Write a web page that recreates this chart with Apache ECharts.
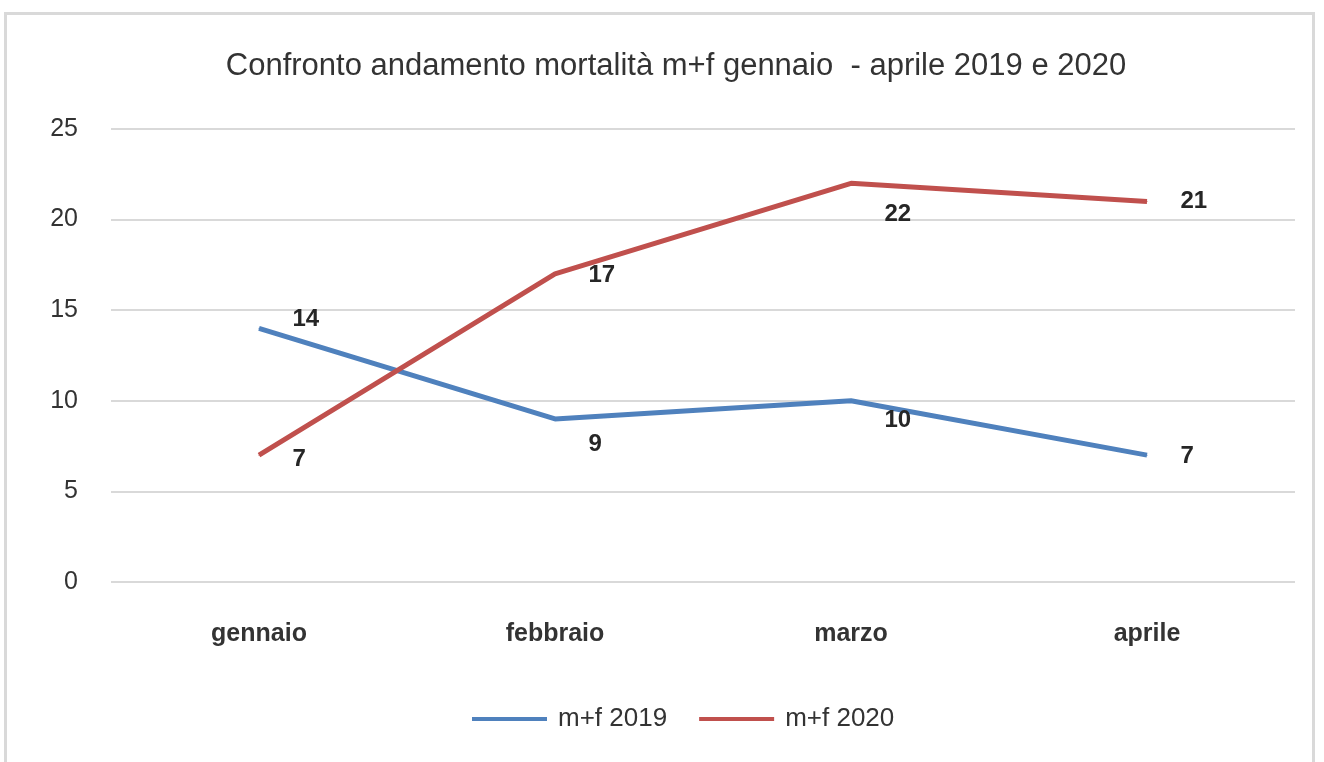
<!DOCTYPE html>
<html>
<head>
<meta charset="utf-8">
<script src="https://cdn.jsdelivr.net/npm/echarts@6/dist/echarts.min.js"></script>
<style>
  body { margin: 0; background: #fff; }
  #chart { position: absolute; left: 0; top: 0; width: 1324px; height: 762px; }
  #frame { position: absolute; left: 4px; top: 12px; width: 1311px; height: 760px;
           border: 3px solid #d9d9d9; box-sizing: border-box; pointer-events: none; }
</style>
</head>
<body>
<div id="chart"></div>
<div id="frame"></div>
<script>
// dati
var months = ['gennaio', 'febbraio', 'marzo', 'aprile'];
var mf2019 = [14, 9, 10, 7];
var mf2020 = [7, 17, 22, 21];
var yTicks = [0, 5, 10, 15, 20, 25];

// spostamento verticale etichette (solo stile)
var off2019 = [[0, -9], [0, 25], [0, 20], [0, 1]];
var off2020 = [[0, 4], [0, 1], [0, 31], [0, 0]];

function withLabels(values, offsets) {
    return values.map(function(v, i) {
        return { value: v, label: { offset: offsets[i] } };
    });
}

(function() {
    var font = '"Liberation Sans", Arial, sans-serif';
    var labelStyle = {
        show: true,
        position: 'right',
        distance: 33,
        fontFamily: font,
        fontSize: 24,
        fontWeight: 'bold',
        color: '#262626'
    };
    var option = {
        animation: false,
        title: {
            text: 'Confronto andamento mortalità m+f gennaio  - aprile 2019 e 2020',
            left: 671,
            top: 46,
            textAlign: 'center',
            textStyle: { fontFamily: font, fontSize: 31, fontWeight: 'normal', color: '#333' }
        },
        legend: {
            bottom: 25,
            left: 467,
            icon: 'rect',
            itemWidth: 75,
            itemHeight: 4,
            itemGap: 32,
            data: ['m+f 2019', 'm+f 2020'],
            textStyle: { fontFamily: font, fontSize: 26, color: '#333', padding: [0, 0, 0, 6] }
        },
        grid: { left: 111, right: 29, top: 129, bottom: 180 },
        xAxis: {
            type: 'category',
            data: months,
            boundaryGap: true,
            axisLine: { show: false },
            axisTick: { show: false },
            axisLabel: { margin: 40, fontFamily: font, fontSize: 25, fontWeight: 'bold', color: '#333' }
        },
        yAxis: {
            type: 'value',
            min: yTicks[0],
            max: yTicks[yTicks.length - 1],
            interval: 5,
            axisLine: { show: false },
            axisTick: { show: false },
            axisLabel: { margin: 33, fontFamily: font, fontSize: 25, color: '#333' },
            splitLine: { lineStyle: { color: '#d9d9d9', width: 2 } }
        },
        series: [{
            name: 'm+f 2019',
            type: 'line',
            data: withLabels(mf2019, off2019),
            symbol: 'circle',
            symbolSize: 1,
            lineStyle: { color: '#4f81bd', width: 5 },
            itemStyle: { color: '#4f81bd' },
            label: labelStyle
        }, {
            name: 'm+f 2020',
            type: 'line',
            data: withLabels(mf2020, off2020),
            symbol: 'circle',
            symbolSize: 1,
            lineStyle: { color: '#c0504d', width: 5 },
            itemStyle: { color: '#c0504d' },
            label: labelStyle
        }]
    };

    var chart = echarts.init(document.getElementById('chart'));
    chart.setOption(option);
})();
</script>
</body>
</html>
